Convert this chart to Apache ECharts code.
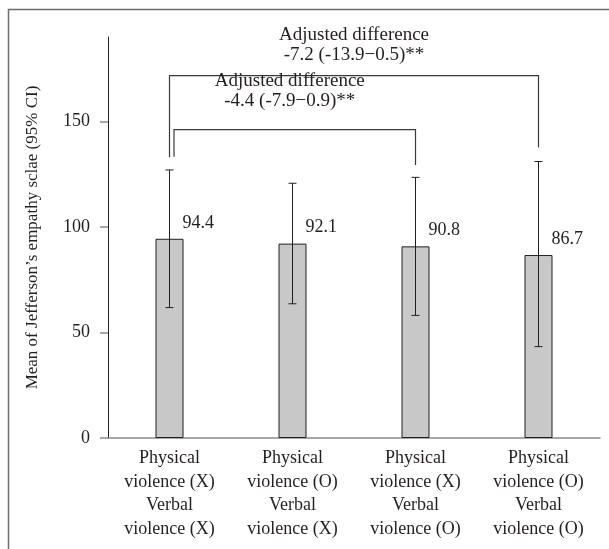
<!DOCTYPE html>
<html>
<head>
<meta charset="utf-8">
<script src="https://cdn.jsdelivr.net/npm/echarts@6/dist/echarts.min.js"></script>
<style>
html, body { margin: 0; padding: 0; background: #fff; }
#main { width: 609px; height: 549px; }
</style>
</head>
<body>
<div id="main"></div>
<script>
// data
var categories = [
  'Physical\nviolence (X)\nVerbal\nviolence (X)',
  'Physical\nviolence (O)\nVerbal\nviolence (X)',
  'Physical\nviolence (X)\nVerbal\nviolence (O)',
  'Physical\nviolence (O)\nVerbal\nviolence (O)'
];
var means = [94.4, 92.1, 90.8, 86.7];
var ciLow = [61.8, 63.6, 58.1, 43.3];
var ciHigh = [127.0, 120.7, 123.5, 131.0];
var yTicks = [0, 50, 100, 150];
// bracket: from category, to category, top value, left leg end, right leg end
var bracketFrom = [0, 0];
var bracketTo = [3, 2];
var bracketTop = [171.7, 146.1];
var bracketLeftEnd = [133.0, 133.3];
var bracketRightEnd = [137.7, 129.4];
var bracketText = [
  'Adjusted difference\n-7.2 (-13.9\u22120.5)**',
  'Adjusted difference\n-4.4 (-7.9\u22120.9)**'
];

// layout only (pixels)
var bracketLegShift = [0, 4.5];
var bracketTextShift = [[0, -31], [-5, -39]];

var FONT = 'Liberation Serif';
var INK = '#231f20';

var errData = categories.map(function (c, i) { return [i, ciLow[i], ciHigh[i]]; });
var bracketData = bracketFrom.map(function (f, i) {
  return [f, bracketTo[i], bracketTop[i], bracketLeftEnd[i], bracketRightEnd[i], i];
});

var chart = echarts.init(document.getElementById('main'));
var option = {
  animation: false,
  backgroundColor: '#fff',
  grid: { left: 108, right: 9, top: 37, bottom: 111, outerBoundsMode: 'none' },
  graphic: [{
    type: 'rect',
    shape: { x: 8.5, y: 9.5, width: 800, height: 800 },
    style: { fill: 'none', stroke: '#6d6d6d', lineWidth: 1.5 },
    silent: true
  }],
  xAxis: {
    type: 'category',
    data: categories,
    axisTick: { show: false },
    axisLine: { lineStyle: { color: '#8a8a8a', width: 1.5 } },
    axisLabel: {
      interval: 0,
      margin: 9,
      color: INK,
      fontFamily: FONT,
      fontSize: 18,
      lineHeight: 23.5
    }
  },
  yAxis: {
    type: 'value',
    min: 0,
    max: 190,
    interval: 50,
    name: 'Mean of Jefferson\u2019s empathy sclae (95% CI)',
    nameLocation: 'middle',
    nameGap: 67,
    nameTextStyle: { color: INK, fontFamily: FONT, fontSize: 17 },
    splitLine: { show: false },
    axisLine: { show: true, lineStyle: { color: '#222', width: 1 } },
    axisTick: { show: true, length: 8, customValues: yTicks, lineStyle: { color: '#8a8a8a', width: 1.5 } },
    axisLabel: { customValues: yTicks, margin: 18, color: INK, fontFamily: FONT, fontSize: 18 }
  },
  series: [
    {
      type: 'bar',
      data: means,
      barWidth: 28,
      itemStyle: { color: '#c8c8c9', borderColor: '#231f20', borderWidth: 1 },
      label: {
        show: true,
        position: [27, -16],
        align: 'left',
        verticalAlign: 'middle',
        formatter: '{c}',
        color: INK,
        fontFamily: FONT,
        fontSize: 18
      },
      z: 2
    },
    {
      type: 'custom',
      data: errData,
      encode: { x: 0, y: [1, 2] },
      z: 3,
      renderItem: function (params, api) {
        var lo = api.coord([api.value(0), api.value(1)]);
        var hi = api.coord([api.value(0), api.value(2)]);
        var st = { stroke: '#231f20', lineWidth: 1 };
        var cap = 4;
        return {
          type: 'group',
          children: [
            { type: 'line', shape: { x1: hi[0], y1: hi[1], x2: lo[0], y2: lo[1] }, style: st },
            { type: 'line', shape: { x1: hi[0] - cap, y1: hi[1], x2: hi[0] + cap, y2: hi[1] }, style: st },
            { type: 'line', shape: { x1: lo[0] - cap, y1: lo[1], x2: lo[0] + cap, y2: lo[1] }, style: st }
          ]
        };
      }
    },
    {
      type: 'custom',
      data: bracketData,
      encode: { x: 0, y: 2 },
      clip: false,
      z: 4,
      renderItem: function (params, api) {
        var k = api.value(5);
        var top = api.coord([api.value(0), api.value(2)]);
        var leftEnd = api.coord([api.value(0), api.value(3)]);
        var rightTop = api.coord([api.value(1), api.value(2)]);
        var rightEnd = api.coord([api.value(1), api.value(4)]);
        var lx = top[0] + bracketLegShift[k];
        var st = { stroke: '#3a3a3a', lineWidth: 1.2, fill: 'none' };
        var tx = (lx + rightTop[0]) / 2 + bracketTextShift[k][0];
        var ty = top[1] + bracketTextShift[k][1];
        return {
          type: 'group',
          children: [
            {
              type: 'polyline',
              shape: { points: [[lx, leftEnd[1]], [lx, top[1]], [rightTop[0], top[1]], [rightEnd[0], rightEnd[1]]] },
              style: st
            },
            {
              type: 'text',
              style: {
                text: bracketText[k],
                x: tx,
                y: ty,
                align: 'center',
                verticalAlign: 'middle',
                fill: INK,
                fontFamily: FONT,
                fontSize: 19,
                lineHeight: 20
              }
            }
          ]
        };
      }
    }
  ]
};
chart.setOption(option);
</script>
</body>
</html>
